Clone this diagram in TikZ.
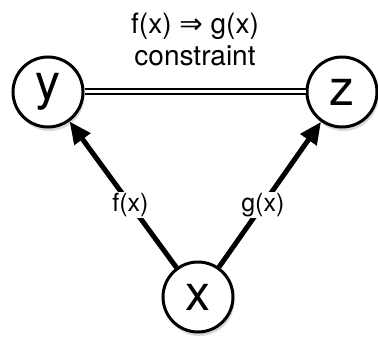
\documentclass[tikz,border=0pt]{standalone}
\usepackage{fontspec}
\setmainfont{TeX Gyre Heros}
\newfontfamily\arrowfont{DejaVu Sans}
\usetikzlibrary{arrows.meta,shadows}

\tikzset{
    var/.style={circle, draw, line width=3pt, fill=white, minimum size=70pt, inner sep=0pt,
        font=\fontsize{50}{50}\selectfont,
        drop shadow={opacity=0.3, shadow xshift=1.5pt, shadow yshift=-4pt}},
    map/.style={line width=5pt, -{Triangle[length=22pt, width=19pt]}},
    maplabel/.style={fill=white, inner sep=1pt, font=\fontsize{25}{25}\selectfont}
}

\begin{document}
\begin{tikzpicture}[x=1pt, y=-1pt]
    \useasboundingbox (0,0) rectangle (378,345);

    % Variables
    \node[var] (y) at (48,92) {y};
    \node[var] (z) at (342,92) {z};
    \node[var] (x) at (198,297) {x};

    % Constraint between y and z
    \draw[double, double distance=3pt, line width=2pt] (y) -- (z)
        node[midway, above=22pt, align=center, font=\fontsize{28}{32}\selectfont]
        {f(x) {\arrowfont ⇒} g(x)\\constraint};

    % Maps from x
    \draw[map] (x) -- (y) node[maplabel, pos=0.43] {f(x)};
    \draw[map] (x) -- (z) node[maplabel, pos=0.43] {g(x)};

\end{tikzpicture}
\end{document}
